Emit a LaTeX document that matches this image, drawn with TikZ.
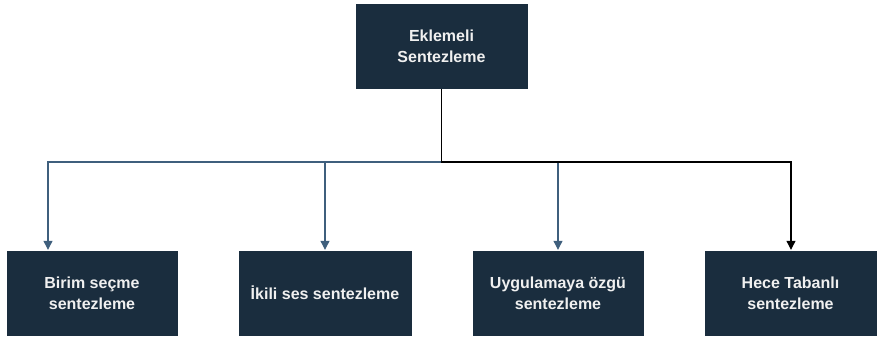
\documentclass[tikz,border=0pt]{standalone}
\usepackage{fontspec}
\setmainfont{Liberation Sans}
\usetikzlibrary{arrows.meta}
\definecolor{boxfill}{HTML}{1A2D3E}
\definecolor{edgeblue}{HTML}{3F5F7D}
\definecolor{txt}{HTML}{F0F0F0}
\begin{document}
\begin{tikzpicture}[x=1pt,y=-1pt,
  box/.style={draw=white, fill=boxfill, text=txt, minimum width=173pt, minimum height=86pt,
    inner sep=0pt, align=center, font=\fontsize{16}{21}\selectfont\bfseries},
  conn/.style={draw=edgeblue, line width=1.1pt, -{Triangle[width=9pt,length=9pt]}},
  connk/.style={draw=black, line width=1.1pt, -{Triangle[width=9pt,length=9pt]}}]
\useasboundingbox (0,0) rectangle (879,338);
\node[box] (top) at (441.5,46) {Eklemeli\\Sentezleme};
\node[box, minimum width=172pt] (b1) at (92,293) {Birim seçme\\sentezleme};
\node[box, minimum width=174pt] (b2) at (325,293) {İkili ses sentezleme};
\node[box, minimum width=172pt] (b3) at (558,293) {Uygulamaya özgü\\sentezleme};
\node[box, minimum width=173pt] (b4) at (790.5,293) {Hece Tabanlı\\sentezleme};
\coordinate (bus) at (441.5,162);
\draw[conn] (top.south) |- (48,162) -- (b1.north -| 48,0);
\draw[conn] (top.south) |- (325,162) -- (b2.north);
\draw[conn] (top.south) |- (558,162) -- (b3.north);
\draw[connk] (top.south) |- (791,162) -- (b4.north -| 791,0);
\draw[black, line width=1.1pt] (top.south) -- (bus);
\end{tikzpicture}
\end{document}
